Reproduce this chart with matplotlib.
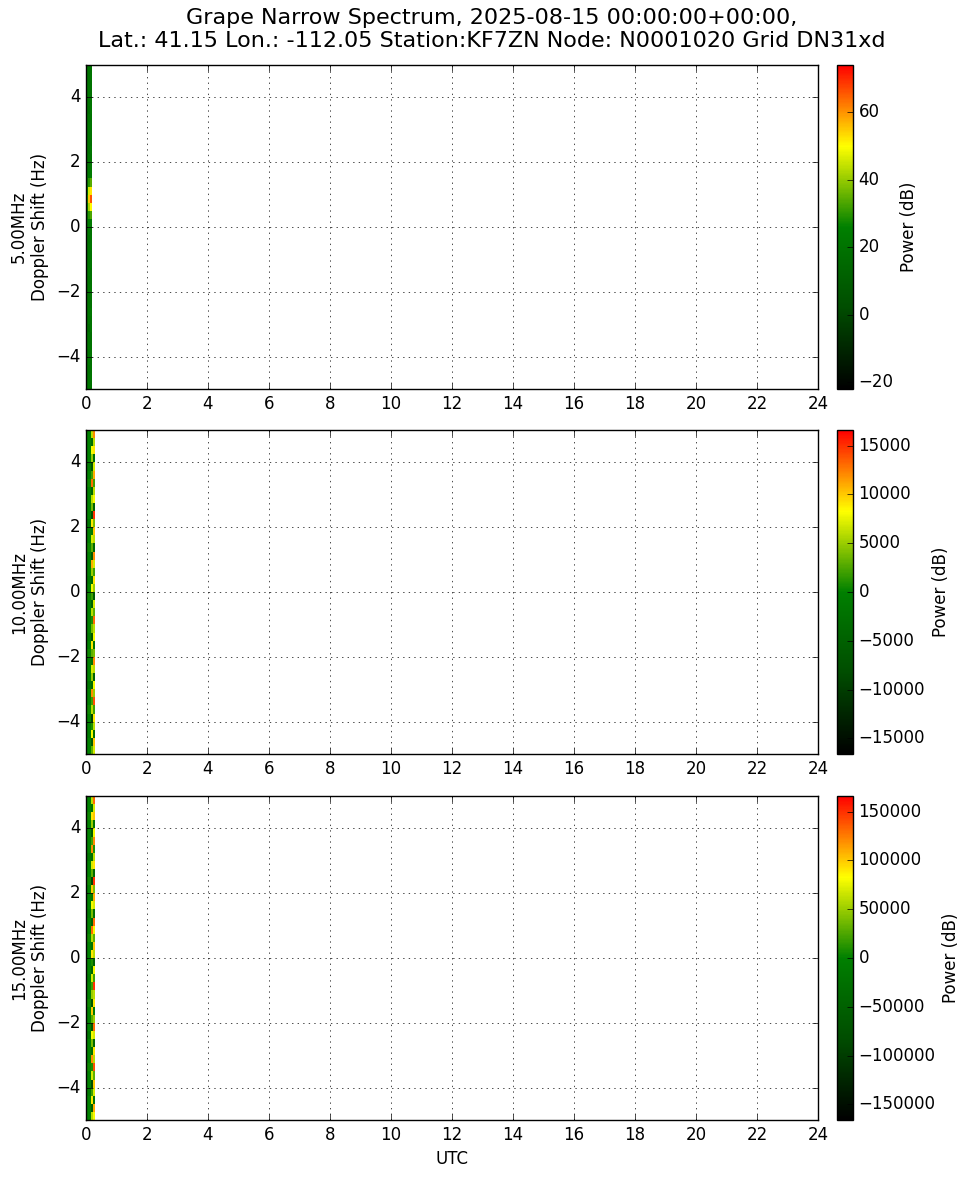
import numpy as np
import matplotlib
matplotlib.use("Agg")
import matplotlib.pyplot as plt
from matplotlib.colors import LinearSegmentedColormap

plt.style.use("classic")
plt.rcParams["figure.facecolor"] = "white"
plt.rcParams["savefig.facecolor"] = "white"
plt.rcParams["font.family"] = ["DejaVu Sans"]

title = ("Grape Narrow Spectrum, 2025-08-15 00:00:00+00:00,\n"
         "Lat.: 41.15 Lon.: -112.05 Station:KF7ZN Node: N0001020 Grid DN31xd")
bands = ["5.00MHz", "10.00MHz", "15.00MHz"]
x_ticks = list(range(0, 25, 2))
y_ticks = [-4, -2, 0, 2, 4]
n_bins = 40

# colour limits per band
clims = [(-22, 74), (-16600, 16600), (-166000, 166000)]
cb_ticks = [[-20, 0, 20, 40, 60],
            [-15000, -10000, -5000, 0, 5000, 10000, 15000],
            [-150000, -100000, -50000, 0, 50000, 100000, 150000]]

# time column edges (hours)
t5 = [0.0, 0.07, 0.13, 0.20]
t10 = [0.0, 0.18, 0.24, 0.31]
t15 = [0.0, 0.18, 0.24, 0.31]

# 5 MHz power (dB), 40 doppler bins from -5 to +5 Hz, per time column
p5_c0 = [20, 19, 21, 20, 18, 20, 22, 20, 19, 20, 21, 20, 17, 20, 20, 21, 19, 20, 22, 20,
         20, 22, 26, 28, 25, 21, 20, 19, 20, 21, 20, 18, 20, 21, 20, 19, 20, 22, 20, 21]
p5_c1 = [21, 20, 19, 22, 20, 21, 20, 16, 20, 21, 20, 19, 21, 20, 22, 20, 21, 20, 19, 22,
         23, 30, 42, 55, 46, 30, 22, 20, 21, 19, 20, 21, 22, 20, 18, 20, 21, 20, 19, 20]
p5_c2 = [20, 21, 20, 19, 21, 20, 18, 21, 20, 22, 19, 20, 21, 20, 19, 21, 20, 22, 21, 20,
         24, 33, 50, 66, 52, 34, 24, 21, 20, 22, 19, 20, 21, 20, 22, 21, 19, 20, 21, 20]

# 10 MHz power
p10_c0 = [0, 0, -1000, 0, 0, 500, 0, 0, -1500, 0, 0, 0, 500, 0, -1000, 0, 0, 0, 0, 500,
          0, -1000, 0, 0, 0, 500, 0, 0, -1500, 0, 0, 0, 0, 500, 0, -1000, 0, 0, 0, 0]
p10_c1 = [3000, -6000, 8000, 1000, -9000, 6000, 2000, 12000, -4000, 5000,
          7000, -2000, 3000, 9000, -7000, 4000, 1000, 6000, -5000, 2000,
          8000, -3000, 5000, 11000, -6000, 3000, 7000, -1000, 9000, -8000,
          4000, 6000, -4000, 13000, 2000, -7000, 5000, 8000, -3000, 6000]
p10_c2 = [7000, 10000, -3000, 6000, 9000, 2000, 14000, 5000, 8000, -5000,
          6000, 12000, 4000, -2000, 8000, 6000, 13000, 3000, 7000, -6000,
          5000, 9000, 2000, 7000, 12000, -4000, 6000, 10000, 4000, 15000,
          -5000, 8000, 6000, 2000, 11000, 7000, -3000, 9000, 6000, 12000]

# 15 MHz power
p15_c0 = [0, 0, 0, -10000, 0, 0, 5000, 0, 0, 0, -15000, 0, 0, 0, 5000, 0, 0, -10000, 0, 0,
          0, 0, 5000, 0, 0, -10000, 0, 0, 0, 5000, 0, 0, -15000, 0, 0, 0, 0, 5000, 0, 0]
p15_c1 = [60000, -50000, 90000, 20000, -80000, 70000, 10000, 120000, -30000, 40000,
          80000, -60000, 30000, 100000, -70000, 50000, 20000, 70000, -40000, 10000,
          90000, -20000, 60000, 130000, -50000, 40000, 80000, -10000, 100000, -90000,
          30000, 70000, -30000, 120000, 20000, -60000, 50000, 90000, -20000, 60000]
p15_c2 = [80000, 110000, -20000, 70000, 100000, 30000, 140000, 60000, 90000, -40000,
          70000, 130000, 50000, -10000, 90000, 60000, 150000, 20000, 80000, -50000,
          60000, 100000, 30000, 80000, 130000, -30000, 70000, 110000, 40000, 150000,
          -40000, 90000, 60000, 10000, 120000, 80000, -20000, 100000, 70000, 130000]

cmap = LinearSegmentedColormap.from_list(
    "grape", [(0.0, (0, 0, 0)), (0.25, (0, 0.3, 0)), (0.5, (0, 0.5, 0)),
              (0.75, (1, 1, 0)), (1.0, (1, 0, 0))])

panels = [
    (t5, [p5_c0, p5_c1, p5_c2]),
    (t10, [p10_c0, p10_c1, p10_c2]),
    (t15, [p15_c0, p15_c1, p15_c2]),
]

W, H = 970, 1178
fig = plt.figure(figsize=(W / 100, H / 100), dpi=100)
fig.suptitle(title, fontsize=16, x=0.507, y=0.993)

ax_left, ax_right = 86, 818
tops = [65, 430, 796]
ph = 324
cb_left, cb_w = 837, 16
f_edges = np.linspace(-5, 5, n_bins + 1)

for i, (tedges, cols) in enumerate(panels):
    top = tops[i]
    ax = fig.add_axes([ax_left / W, 1 - (top + ph) / H, (ax_right - ax_left) / W, ph / H])
    cax = fig.add_axes([cb_left / W, 1 - (top + ph) / H, cb_w / W, ph / H])
    Z = np.array(cols).T
    vmin, vmax = clims[i]
    mesh = ax.pcolormesh(tedges, f_edges, Z, cmap=cmap, vmin=vmin, vmax=vmax)
    ax.set_xlim(0, 24)
    ax.set_ylim(-5, 5)
    ax.set_xticks(x_ticks)
    ax.set_yticks(y_ticks)
    ax.grid(True, color="black", linestyle=":", linewidth=0.5)
    ax.set_ylabel(bands[i] + "\nDoppler Shift (Hz)", fontsize=12)
    ax.tick_params(labelsize=12)
    if i == 2:
        ax.set_xlabel("UTC", fontsize=12)
    cb = fig.colorbar(mesh, cax=cax, ticks=cb_ticks[i])
    cb.set_label("Power (dB)", fontsize=12)
    cb.ax.tick_params(labelsize=12)

fig.savefig("out.png", dpi=100)
